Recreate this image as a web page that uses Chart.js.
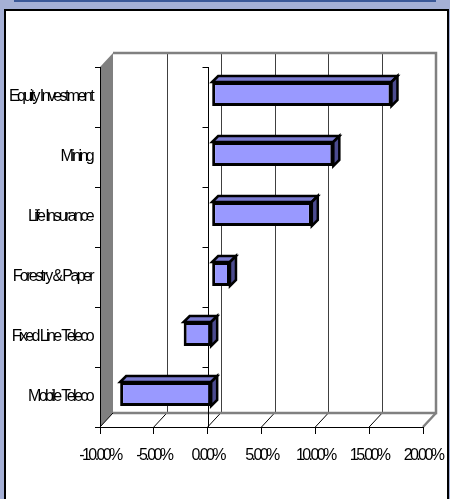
<!DOCTYPE html>
<html>
<head>
<meta charset="utf-8">
<script src="https://cdn.jsdelivr.net/npm/chart.js@4.4.0/dist/chart.umd.min.js"></script>
<style>
  html, body { margin: 0; padding: 0; }
  body { width: 450px; height: 499px; background: #a5b0d6; position: relative; overflow: hidden; }
  #topEdge { position: absolute; left: 14px; top: 0; width: 422px; height: 2px; background: #3b5898; }
  #panel { position: absolute; left: 4px; top: 9px; width: 441px; height: 500px; background: #fff; border: 2px solid #000; }
  #myChart { position: absolute; left: 0; top: 0; }
</style>
</head>
<body>
<div id="topEdge"></div>
<div id="panel"></div>
<canvas id="myChart" width="450" height="499"></canvas>
<script>
var sectors = ['Equity Investment', 'Mining', 'Life Insurance', 'Forestry & Paper', 'Fixed Line Teleco', 'Mobile Teleco'];
var returns = [16.7, 11.3, 9.3, 1.7, -2.6, -8.5];
var tickValues = [-10, -5, 0, 5, 10, 15, 20];

var labelFont = { family: "'Liberation Sans', Arial, sans-serif", size: 16 };

// depth of the walls and of the bars, in pixels
var wallDX = 13, wallDY = 14;
var barShiftX = 4, barShiftY = -3;
var barDepth = 6;

var box3d = {
	id: 'box3d',
	beforeDraw: function(chart) {
		var ctx = chart.ctx;
		ctx.letterSpacing = '-2.6px';
		var xs = chart.scales.x;
		var area = chart.chartArea;
		var L = xs.getPixelForValue(-10), R = xs.getPixelForValue(20);
		var T = area.top, B = area.bottom;

		ctx.save();
		// left wall
		ctx.fillStyle = '#808080';
		ctx.beginPath();
		ctx.moveTo(L, T);
		ctx.lineTo(L + wallDX, T - wallDY);
		ctx.lineTo(L + wallDX, B - wallDY);
		ctx.lineTo(L, B);
		ctx.closePath();
		ctx.fill();

		// back wall grid
		ctx.strokeStyle = '#404040';
		ctx.lineWidth = 1;
		tickValues.forEach(function(v) {
			if (v <= -10 || v >= 20) return;
			var px = Math.round(xs.getPixelForValue(v) + wallDX) + 0.5;
			ctx.beginPath();
			ctx.moveTo(px, T - wallDY);
			ctx.lineTo(px, B - wallDY);
			ctx.stroke();
		});

		// floor lines
		ctx.strokeStyle = '#000';
		tickValues.forEach(function(v) {
			if (v >= 20) return;
			var px = xs.getPixelForValue(v);
			ctx.beginPath();
			ctx.moveTo(px, B);
			ctx.lineTo(px + wallDX, B - wallDY);
			ctx.stroke();
		});

		// back wall and floor edges
		ctx.strokeStyle = '#808080';
		ctx.lineWidth = 2.5;
		ctx.beginPath();
		ctx.moveTo(L + wallDX, T - wallDY);
		ctx.lineTo(R + wallDX, T - wallDY);
		ctx.lineTo(R + wallDX, B - wallDY);
		ctx.lineTo(L + wallDX, B - wallDY);
		ctx.stroke();
		ctx.beginPath();
		ctx.moveTo(R + wallDX, B - wallDY);
		ctx.lineTo(R, B);
		ctx.stroke();
		ctx.restore();
	},
	beforeDatasetsDraw: function(chart) {
		var ctx = chart.ctx;
		var xs = chart.scales.x;
		var area = chart.chartArea;
		// axis at zero
		var zx = Math.round(xs.getPixelForValue(0)) + 0.5;
		ctx.save();
		ctx.strokeStyle = '#000';
		ctx.lineWidth = 1;
		ctx.beginPath();
		ctx.moveTo(zx, area.top);
		ctx.lineTo(zx, area.bottom);
		var step = (area.bottom - area.top) / sectors.length;
		for (var i = 0; i <= sectors.length; i++) {
			var py = Math.round(area.top + i * step) + 0.5;
			ctx.moveTo(zx - 6, py);
			ctx.lineTo(zx, py);
		}
		ctx.stroke();
		ctx.restore();

		ctx.save();
		ctx.translate(barShiftX, barShiftY);
	},
	afterDatasetsDraw: function(chart) {
		var ctx = chart.ctx;
		var meta = chart.getDatasetMeta(0);
		ctx.lineWidth = 2.5;
		ctx.lineJoin = 'miter';
		ctx.strokeStyle = '#000';
		meta.data.forEach(function(bar) {
			var p = bar.getProps(['x', 'y', 'base', 'height'], true);
			var left = Math.min(p.x, p.base), right = Math.max(p.x, p.base);
			var top = p.y - p.height / 2, bottom = p.y + p.height / 2;
			var d = barDepth;
			// top face
			ctx.fillStyle = '#7b7bd0';
			ctx.beginPath();
			ctx.moveTo(left, top);
			ctx.lineTo(left + d, top - d);
			ctx.lineTo(right + d, top - d);
			ctx.lineTo(right, top);
			ctx.closePath();
			ctx.fill();
			ctx.stroke();
			// end face
			ctx.fillStyle = '#4c4c8f';
			ctx.beginPath();
			ctx.moveTo(right, top);
			ctx.lineTo(right + d, top - d);
			ctx.lineTo(right + d, bottom - d);
			ctx.lineTo(right, bottom);
			ctx.closePath();
			ctx.fill();
			ctx.stroke();
		});
		ctx.restore();
	}
};

var ctx = document.getElementById('myChart').getContext('2d');

var chart = new Chart(ctx, {
	type: 'bar',
	data: {
		labels: sectors,
		datasets: [{
			data: returns,
			backgroundColor: '#9999ff',
			borderColor: '#000',
			borderWidth: 3,
			borderSkipped: false,
			barPercentage: 0.4,
			categoryPercentage: 1,
			clip: false
		}]
	},
	options: {
		indexAxis: 'y',
		responsive: false,
		animation: false,
		layout: { padding: { left: 0, top: 67, right: 27, bottom: 0 } },
		plugins: {
			legend: { display: false },
			tooltip: { enabled: false }
		},
		scales: {
			x: {
				min: -10,
				max: 20,
				afterBuildTicks: function(scale) {
					scale.ticks = tickValues.map(function(v) { return { value: v }; });
				},
				afterFit: function(scale) {
					scale.height = 72;
					scale.paddingLeft = 0;
					scale.paddingRight = 0;
				},
				ticks: {
					callback: function(v) { return v.toFixed(2) + '%'; },
					color: '#000',
					font: labelFont,
					padding: 12,
					maxRotation: 0,
					autoSkip: false
				},
				grid: { drawOnChartArea: false, tickLength: 7, color: '#000' },
				border: { color: '#000', width: 1 }
			},
			y: {
				afterFit: function(scale) {
					scale.width = 100;
					scale.paddingTop = 0;
					scale.paddingBottom = 0;
				},
				ticks: { color: '#000', font: labelFont, padding: 3, autoSkip: false },
				grid: { drawOnChartArea: false, tickLength: 5, color: '#000', offset: true },
				border: { color: '#000', width: 1 }
			}
		}
	},
	plugins: [box3d]
});
</script>
</body>
</html>
